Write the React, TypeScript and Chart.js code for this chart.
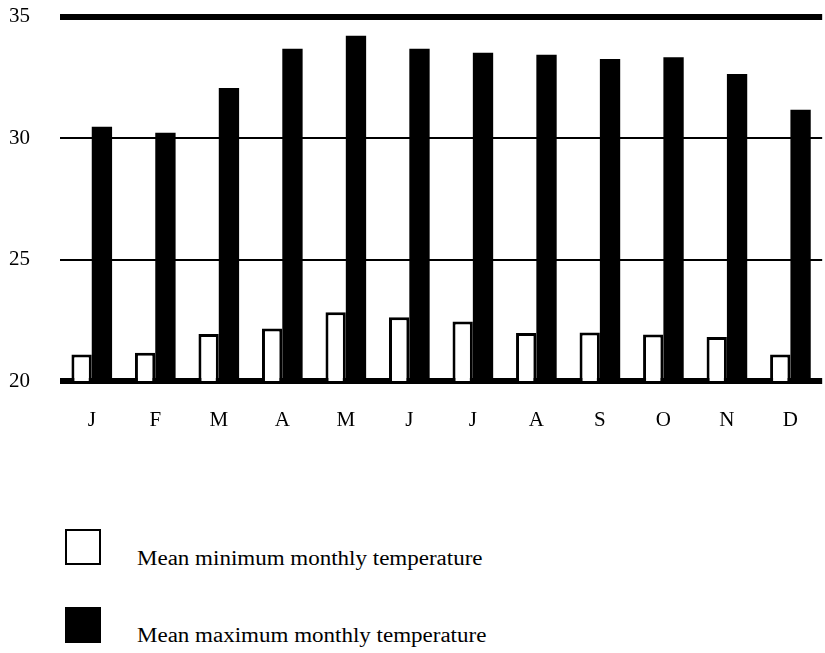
import React, { useEffect, useRef } from "react";
import { Chart, registerables } from "chart.js";

Chart.register(...registerables);

const months = ["J", "F", "M", "A", "M", "J", "J", "A", "S", "O", "N", "D"];
const meanMin = [21.09, 21.16, 21.93, 22.16, 22.83, 22.62, 22.45, 21.98, 22.0, 21.91, 21.81, 21.09];
const meanMax = [30.47, 30.22, 32.06, 33.68, 34.21, 33.68, 33.51, 33.43, 33.25, 33.33, 32.64, 31.17];
const yTicks = [20, 25, 30, 35];
const legendLabels = ["Mean minimum monthly temperature", "Mean maximum monthly temperature"];

const FONT = "'Liberation Serif', 'DejaVu Serif', serif";

export default function App() {
  const ref = useRef<HTMLCanvasElement | null>(null);

  useEffect(() => {
    document.body.style.margin = "0";
    if (!ref.current) return;
    const chart = new Chart(ref.current, {
      type: "bar",
      data: {
        labels: months,
        datasets: [
          {
            label: legendLabels[0],
            data: meanMin,
            backgroundColor: "#ffffff",
            borderColor: "#000000",
            borderWidth: 3,
            categoryPercentage: 0.64,
            barPercentage: 1.0,
          },
          {
            label: legendLabels[1],
            data: meanMax,
            backgroundColor: "#000000",
            borderColor: "#000000",
            borderWidth: 0,
            categoryPercentage: 0.64,
            barPercentage: 1.0,
          },
        ],
      },
      options: {
        responsive: false,
        animation: false,
        devicePixelRatio: 1,
        layout: { padding: { top: 16, right: 0, left: 0, bottom: 0 } },
        plugins: { legend: { display: false }, tooltip: { enabled: false } },
        scales: {
          x: {
            grid: { display: false, drawTicks: false },
            border: { display: false },
            ticks: { color: "#000", font: { family: FONT, size: 21 }, padding: 27 },
            afterFit: (s: any) => {
              s.height = 59;
            },
          },
          y: {
            min: 20,
            max: 35,
            z: 1,
            afterBuildTicks: (s: any) => {
              s.ticks = yTicks.map((v) => ({ value: v }));
            },
            grid: {
              drawTicks: false,
              color: "#000",
              lineWidth: (c: any) => (c.tick && (c.tick.value === 20 || c.tick.value === 35) ? 6 : 2),
            },
            border: { display: false },
            ticks: { color: "#000", font: { family: FONT, size: 21 }, padding: 30, stepSize: 5 },
            afterFit: (s: any) => {
              s.width = 60;
            },
          },
        },
      },
    });
    return () => chart.destroy();
  }, []);

  const textStyle: React.CSSProperties = {
    position: "absolute",
    left: 137,
    fontFamily: FONT,
    fontSize: 20,
    lineHeight: "20px",
    whiteSpace: "nowrap",
    transform: "scaleX(1.15)",
    transformOrigin: "left top",
    color: "#000",
  };

  return (
    <div style={{ position: "absolute", left: 0, top: 0, width: 825, height: 653, background: "#fff", overflow: "hidden" }}>
      <canvas ref={ref} width={825} height={466} style={{ position: "absolute", left: 0, top: -26 }} />
      <div
        style={{
          position: "absolute",
          left: 65,
          top: 529,
          width: 36,
          height: 36,
          border: "2px solid #000",
          boxSizing: "border-box",
          background: "#fff",
        }}
      />
      <div style={{ ...textStyle, top: 548 }}>{legendLabels[0]}</div>
      <div
        style={{ position: "absolute", left: 65, top: 607, width: 36, height: 36, background: "#000" }}
      />
      <div style={{ ...textStyle, top: 625 }}>{legendLabels[1]}</div>
    </div>
  );
}
